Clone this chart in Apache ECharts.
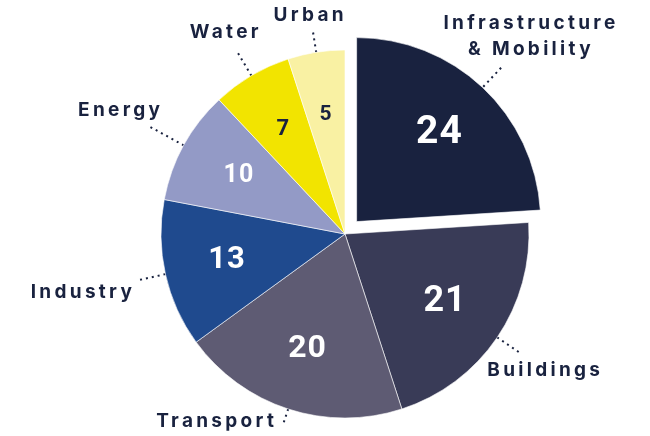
<!DOCTYPE html>
<html>
<head>
<meta charset="utf-8">
<script src="https://cdn.jsdelivr.net/npm/echarts@6/dist/echarts.min.js"></script>
<style>
html, body { margin: 0; padding: 0; background: #fff; }
#chart { width: 650px; height: 436px; }
</style>
</head>
<body>
<div id="chart"></div>
<script>
// data
var sectors = ['Infrastructure & Mobility', 'Buildings', 'Transport', 'Industry', 'Energy', 'Water', 'Urban'];
var shares = [24, 21, 20, 13, 10, 7, 5];
var highlighted = 'Infrastructure & Mobility';

// styles
var sliceColors = ['#19223f', '#393b57', '#5e5b73', '#1f4a8e', '#939ac6', '#f2e400', '#f9f1a3'];
var valueFontSizes = [39, 36, 32, 31, 25, 22, 21];
var valueColors = ['#ffffff', '#ffffff', '#ffffff', '#ffffff', '#ffffff', '#19223f', '#19223f'];
var leaderLengths = [47, 30, 16, 26, 40, 30, 20];
var ink = '#19223f';
var explode = 17;

// tracked lettering (canvas letterSpacing), wide for names, light for numbers
['fillText', 'strokeText', 'measureText'].forEach(function (fn) {
  var orig = CanvasRenderingContext2D.prototype[fn];
  CanvasRenderingContext2D.prototype[fn] = function () {
    if ('letterSpacing' in this) {
      this.letterSpacing = /Inter/.test(this.font) ? '3.3px' : (/Roboto/.test(this.font) ? '1px' : '0px');
    }
    return orig.apply(this, arguments);
  };
});

var chart = echarts.init(document.getElementById('chart'));

// put the name label just past the end of its leader line, along the line
function placeLabel(p) {
  var pts = p.labelLinePoints;
  if (!pts) return;
  var a = pts[0], b = pts[pts.length - 1];
  var dx = b[0] - a[0], dy = b[1] - a[1];
  var len = Math.sqrt(dx * dx + dy * dy) || 1;
  var ux = dx / len, uy = dy / len;
  var w = p.labelRect.width, h = p.labelRect.height;
  var tx = Math.abs(ux) > 1e-6 ? (w / 2) / Math.abs(ux) : Infinity;
  var ty = Math.abs(uy) > 1e-6 ? (h / 2) / Math.abs(uy) : Infinity;
  var t = Math.min(tx, ty) + 5;
  var x = b[0] + ux * t, y = b[1] + uy * t;
  var H = chart.getHeight();
  var yc = Math.max(h / 2 + 2, Math.min(H - h / 2 - 2, y));
  if (yc !== y) {
    y = yc;
    if (Math.abs(b[1] - y) < h / 2 && Math.abs(b[0] - x) < w / 2) {
      x = b[0] + (ux < 0 ? -1 : 1) * (w / 2 + 6);
    }
  }
  return { x: x, y: y, align: 'center', verticalAlign: 'middle', labelLinePoints: pts };
}

var common = {
  type: 'pie',
  center: [345, 234],
  radius: 184,
  startAngle: 90,
  clockwise: true,
  avoidLabelOverlap: false,
  silent: true,
  emphasis: { disabled: true },
  animation: false
};

chart.setOption({
  backgroundColor: '#fff',
  series: [
    // names + dotted leaders, under the slices
    Object.assign({}, common, {
      name: 'names',
      z: 1,
      itemStyle: { color: 'transparent' },
      label: {
        show: true,
        position: 'outside',
        formatter: function (p) { return p.name.replace(' & ', '\n& '); },
        fontFamily: 'Inter',
        fontWeight: 'bold',
        fontSize: 19,
        lineHeight: 26,
        color: ink,
        align: 'center'
      },
      labelLine: {
        show: true,
        length2: 0,
        lineStyle: { color: ink, width: 2, type: [2, 4] }
      },
      labelLayout: placeLabel,
      data: sectors.map(function (s, i) {
        return { name: s, value: shares[i], labelLine: { length: leaderLengths[i] } };
      })
    }),
    // coloured slices
    Object.assign({}, common, {
      name: 'slices',
      z: 3,
      selectedMode: 'single',
      selectedOffset: explode,
      itemStyle: { borderColor: '#ffffff', borderWidth: 0.6 },
      label: { show: false },
      labelLine: { show: false },
      data: sectors.map(function (s, i) {
        return {
          name: s,
          value: shares[i],
          selected: s === highlighted,
          itemStyle: { color: sliceColors[i] }
        };
      })
    }),
    // values, on a ring so they sit further out in each slice
    Object.assign({}, common, {
      name: 'values',
      z: 4,
      radius: [52, 184],
      selectedMode: 'single',
      selectedOffset: explode,
      itemStyle: { color: 'transparent' },
      label: {
        show: true,
        position: 'inside',
        formatter: '{c}',
        fontFamily: 'Roboto',
        fontWeight: 'bold'
      },
      labelLine: { show: false },
      data: sectors.map(function (s, i) {
        return {
          name: s,
          value: shares[i],
          selected: s === highlighted,
          label: { fontSize: valueFontSizes[i], color: valueColors[i] }
        };
      })
    })
  ]
});
</script>
</body>
</html>
